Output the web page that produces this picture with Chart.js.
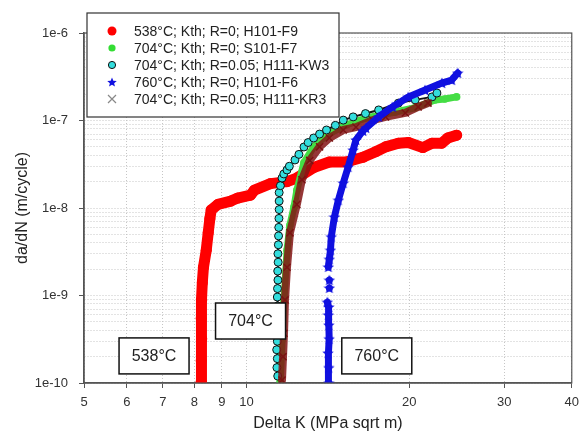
<!DOCTYPE html>
<html>
<head>
<meta charset="utf-8">
<script src="https://cdn.jsdelivr.net/npm/chart.js@4.4.0/dist/chart.umd.min.js"></script>
<style>
  html, body { margin: 0; padding: 0; background: #fff; }
</style>
</head>
<body>
<canvas id="chart" width="586" height="433"></canvas>
<script>
// ---- data ----
var xTicks = [5, 6, 7, 8, 9, 10, 20, 30, 40];
var yDecades = [1e-10, 1e-9, 1e-8, 1e-7, 1e-6];
var yTickLabels = ['1e-10', '1e-9', '1e-8', '1e-7', '1e-6'];

var seriesNames = [
    '538°C; Kth; R=0; H101-F9',
    '704°C; Kth; R=0; S101-F7',
    '704°C; Kth; R=0.05; H111-KW3',
    '760°C; Kth; R=0; H101-F6',
    '704°C; Kth; R=0.05; H111-KR3'
];

// 538°C H101-F9
var dk538 = [8.24, 8.24, 8.26, 8.24, 8.26, 8.28, 8.32, 8.42, 8.49, 8.55, 8.60, 8.85, 9.35, 9.63, 10.17, 10.34, 11.07, 11.88, 12.39, 13.31, 14.23, 15.29, 16.42, 17.34, 18.09, 19.10, 19.93, 21.2, 22.04, 22.99, 23.57, 24.48];
var rate538 = [1.03e-10, 1.8e-10, 3.2e-10, 5.5e-10, 8.9e-10, 1.4e-9, 2.1e-9, 3.3e-9, 5.2e-9, 7.5e-9, 9.5e-9, 1.1e-8, 1.2e-8, 1.3e-8, 1.4e-8, 1.6e-8, 1.9e-8, 2.0e-8, 2.2e-8, 2.9e-8, 3.35e-8, 3.35e-8, 3.8e-8, 4.4e-8, 5.0e-8, 5.5e-8, 5.6e-8, 4.9e-8, 5.5e-8, 5.5e-8, 6.3e-8, 6.8e-8];

// 704°C S101-F7
var dkF7 = [11.54, 11.6, 11.63, 11.73, 11.88, 12.03, 12.24, 12.39, 12.77, 13.31, 14.06, 15.29, 16.63, 18.86, 20.52, 22.32, 23.27, 24.48];
var rateF7 = [1.03e-10, 2e-10, 3.1e-10, 8.9e-10, 3.3e-9, 6.4e-9, 1.03e-8, 1.6e-8, 3.3e-8, 5.0e-8, 6.8e-8, 8.9e-8, 1.07e-7, 1.25e-7, 1.4e-7, 1.72e-7, 1.76e-7, 1.86e-7];

// 704°C H111-KW3
var dkKW3 = [11.42, 11.38, 11.40, 11.37, 11.40, 11.38, 11.41, 11.39, 11.42, 11.40, 11.41, 11.43, 11.42, 11.44, 11.43, 11.45, 11.46, 11.47, 11.48, 11.49, 11.49, 11.49, 11.55, 11.63, 11.72, 11.88, 12.0, 12.29, 12.5, 12.77, 13.0, 13.31, 13.65, 14.06, 14.6, 15.10, 15.75, 16.6, 17.56, 19.10, 20.52, 22.04, 22.51];
var rateKW3 = [1.2e-10, 1.5e-10, 1.9e-10, 2.4e-10, 3.0e-10, 3.8e-10, 4.8e-10, 6.0e-10, 7.6e-10, 9.6e-10, 1.2e-9, 1.5e-9, 1.9e-9, 2.4e-9, 3.0e-9, 3.8e-9, 4.8e-9, 6.0e-9, 7.6e-9, 9.6e-9, 1.2e-8, 1.5e-8, 1.8e-8, 2.2e-8, 2.45e-8, 2.72e-8, 3.0e-8, 3.54e-8, 4.1e-8, 4.98e-8, 5.6e-8, 6.31e-8, 7.0e-8, 7.79e-8, 8.8e-8, 1.01e-7, 1.10e-7, 1.2e-7, 1.32e-7, 1.58e-7, 1.72e-7, 1.86e-7, 2.06e-7];

// 760°C H101-F6 (null = break in the record)
var dkF6 = [14.2, 14.2, 14.15, 14.22, 14.2, 14.17, 14.2, 14.11, null, 14.23, null, 14.23, null, 14.17, 14.23, 14.3, 14.35, 14.54, 14.79, 15.10, 15.42, 15.75, 15.94, 16.42, 16.63, 17.56, 18.63, 19.93, 21.4, 22.99, 23.97, 24.6];
var rateF6 = [1.0e-10, 1.5e-10, 2.2e-10, 3.2e-10, 4.6e-10, 6.0e-10, 7.4e-10, 8.4e-10, null, 1.22e-9, null, 1.5e-9, null, 2.12e-9, 2.6e-9, 3.3e-9, 4.7e-9, 7.9e-9, 1.23e-8, 1.93e-8, 2.94e-8, 4.6e-8, 6.0e-8, 7.6e-8, 8.2e-8, 1.1e-7, 1.43e-7, 1.86e-7, 2.23e-7, 2.68e-7, 2.9e-7, 3.49e-7];

// 704°C H111-KR3
var dkKR3 = [11.63, 11.68, 11.73, 11.78, 11.88, 12.03, 12.39, 12.66, 13.09, 13.65, 14.23, 15.10, 15.94, 17.12, 18.09, 19.67, 20.78, 21.67];
var rateKR3 = [1.08e-10, 2e-10, 3.7e-10, 8.9e-10, 2.1e-9, 5.2e-9, 1.1e-8, 2.1e-8, 3.5e-8, 5.0e-8, 6.3e-8, 7.8e-8, 8.4e-8, 1.01e-7, 1.1e-7, 1.22e-7, 1.43e-7, 1.58e-7];

// ---- helpers ----
var FONT = '"Liberation Sans", Arial, sans-serif';

function pts(xs, ys) {
    return xs.map(function (x, i) { return {x: x, y: ys[i]}; });
}

function isDecade(v) {
    var l = Math.log10(v);
    return Math.abs(l - Math.round(l)) < 1e-6;
}

function makeStar(size, color) {
    var c = document.createElement('canvas');
    c.width = size; c.height = size;
    var g = c.getContext('2d');
    var cx = size / 2, cy = size / 2 + 0.5, ro = size / 2, ri = ro * 0.45;
    g.beginPath();
    for (var i = 0; i < 10; i++) {
        var r = i % 2 ? ri : ro;
        var a = -Math.PI / 2 + i * Math.PI / 5;
        g.lineTo(cx + r * Math.cos(a), cy + r * Math.sin(a));
    }
    g.closePath();
    g.fillStyle = color;
    g.fill();
    return c;
}

var starBig = makeStar(12, '#1010e0');
var starSmall = makeStar(10, '#1010e0');

var yTickValues = [];
for (var d = 0; d < yDecades.length - 1; d++) {
    for (var k = 1; k <= 9; k++) yTickValues.push(k * yDecades[d]);
}
yTickValues.push(yDecades[yDecades.length - 1]);

// frame, temperature boxes and legend drawn on top
var decor = {
    id: 'decor',
    afterDraw: function (chart) {
        var ctx = chart.ctx, a = chart.chartArea;
        var sx = chart.scales.x, sy = chart.scales.y;
        ctx.save();

        ctx.strokeStyle = '#555';
        ctx.lineWidth = 1.2;
        ctx.strokeRect(a.left, a.top, a.right - a.left, a.bottom - a.top);

        // temperature labels, anchored in data units
        var notes = [['538°C', 6.74, 2.04e-10], ['704°C', 10.17, 5.11e-10], ['760°C', 17.42, 2.04e-10]];
        ctx.font = '16px ' + FONT;
        ctx.textAlign = 'center';
        ctx.textBaseline = 'middle';
        notes.forEach(function (n) {
            var px = sx.getPixelForValue(n[1]), py = sy.getPixelForValue(n[2]);
            ctx.fillStyle = '#fff';
            ctx.fillRect(px - 35, py - 18, 70, 36);
            ctx.strokeStyle = '#111';
            ctx.lineWidth = 1.5;
            ctx.strokeRect(px - 35, py - 18, 70, 36);
            ctx.fillStyle = '#222';
            ctx.fillText(n[0], px, py + 1);
        });

        // legend box
        var lx = a.left + 3, ly = a.top - 20, lw = 252, lh = 104;
        ctx.fillStyle = '#fff';
        ctx.fillRect(lx, ly, lw, lh);
        ctx.strokeStyle = '#333';
        ctx.lineWidth = 1.2;
        ctx.strokeRect(lx, ly, lw, lh);

        ctx.font = '14px ' + FONT;
        ctx.textAlign = 'left';
        ctx.textBaseline = 'middle';
        seriesNames.forEach(function (name, i) {
            var my = ly + 18 + i * 17, mx = lx + 25;
            if (i === 0 || i === 1 || i === 2) {
                ctx.beginPath();
                ctx.arc(mx, my, i === 0 ? 4.5 : 3.6, 0, Math.PI * 2);
                ctx.fillStyle = ['#ff0000', '#33dd33', '#33dddd'][i];
                ctx.fill();
                if (i === 2) { ctx.strokeStyle = '#111'; ctx.lineWidth = 1; ctx.stroke(); }
            } else if (i === 3) {
                ctx.drawImage(starSmall, mx - 5, my - 5);
            } else {
                ctx.strokeStyle = '#888';
                ctx.lineWidth = 1.2;
                ctx.beginPath();
                ctx.moveTo(mx - 4, my - 4); ctx.lineTo(mx + 4, my + 4);
                ctx.moveTo(mx + 4, my - 4); ctx.lineTo(mx - 4, my + 4);
                ctx.stroke();
            }
            ctx.fillStyle = '#222';
            ctx.fillText(name, lx + 47, my + 1);
        });
        ctx.restore();
    }
};

new Chart(document.getElementById('chart'), {
    type: 'scatter',
    data: {
        datasets: [
            {
                label: seriesNames[0], data: pts(dk538, rate538), order: 4,
                showLine: true, borderColor: '#ff0000', borderWidth: 11,
                borderJoinStyle: 'round', borderCapStyle: 'round',
                pointStyle: 'circle', pointRadius: 5.5, pointBackgroundColor: '#ff0000', pointBorderWidth: 0
            },
            {
                label: seriesNames[1], data: pts(dkF7, rateF7), order: 3,
                showLine: true, borderColor: '#44dd44', borderWidth: 7,
                borderJoinStyle: 'round', borderCapStyle: 'round',
                pointStyle: 'circle', pointRadius: 3.8, pointBackgroundColor: '#44dd44', pointBorderWidth: 0
            },
            {
                label: seriesNames[2], data: pts(dkKW3, rateKW3), order: 2,
                showLine: true, borderColor: '#111', borderWidth: 2,
                pointStyle: 'circle', pointRadius: 4, pointBackgroundColor: '#33dddd',
                pointBorderColor: '#111', pointBorderWidth: 1
            },
            {
                label: seriesNames[3], data: pts(dkF6, rateF6), order: 0,
                showLine: true, spanGaps: false, borderColor: '#1010e0', borderWidth: 7,
                borderJoinStyle: 'round', borderCapStyle: 'round',
                pointStyle: starBig, pointRadius: 6
            },
            {
                label: seriesNames[4], data: pts(dkKR3, rateKR3), order: 1,
                showLine: true, borderColor: 'rgba(130,20,20,0.85)', borderWidth: 8,
                borderJoinStyle: 'round', borderCapStyle: 'round',
                pointStyle: 'crossRot', pointRadius: 5, pointBorderColor: '#7a1212', pointBorderWidth: 1.5
            }
        ]
    },
    options: {
        responsive: false,
        animation: false,
        events: [],
        layout: { padding: { left: 0, top: 33, right: 7, bottom: 0 } },
        plugins: { legend: { display: false }, tooltip: { enabled: false } },
        scales: {
            x: {
                type: 'logarithmic', min: 5, max: 40,
                afterBuildTicks: function (s) { s.ticks = xTicks.map(function (v) { return {value: v}; }); },
                afterFit: function (s) { s.height = 50; },
                ticks: {
                    autoSkip: false, maxRotation: 0, padding: 7, color: '#333',
                    font: { family: FONT, size: 13 },
                    callback: function (v) { return String(v); }
                },
                grid: { color: '#c6c6c6', tickColor: '#555', tickLength: 5 },
                border: { color: '#555', width: 1.5, dash: [1, 2] },
                title: {
                    display: true, text: 'Delta K (MPa sqrt m)', color: '#222',
                    font: { family: FONT, size: 16 }, padding: { top: 0, bottom: 0 }
                }
            },
            y: {
                type: 'logarithmic', min: 1e-10, max: 1e-6,
                afterBuildTicks: function (s) { s.ticks = yTickValues.map(function (v) { return {value: v}; }); },
                afterFit: function (s) { s.width = 84; },
                ticks: {
                    autoSkip: false, padding: 11, color: '#333',
                    font: { family: FONT, size: 13 },
                    callback: function (v) {
                        if (!isDecade(v)) return '';
                        return yTickLabels[yDecades.findIndex(function (d) { return Math.abs(Math.log10(d) - Math.log10(v)) < 1e-6; })];
                    }
                },
                grid: {
                    color: '#c6c6c6', tickLength: 5,
                    tickColor: function (c) { return c.tick && isDecade(c.tick.value) ? '#555' : 'rgba(0,0,0,0)'; }
                },
                border: { color: '#555', width: 1.5, dash: [1, 2] },
                title: {
                    display: true, text: 'da/dN (m/cycle)', color: '#222',
                    font: { family: FONT, size: 16 }, padding: { top: 13, bottom: 0 }
                }
            }
        }
    },
    plugins: [decor]
});
</script>
</body>
</html>
